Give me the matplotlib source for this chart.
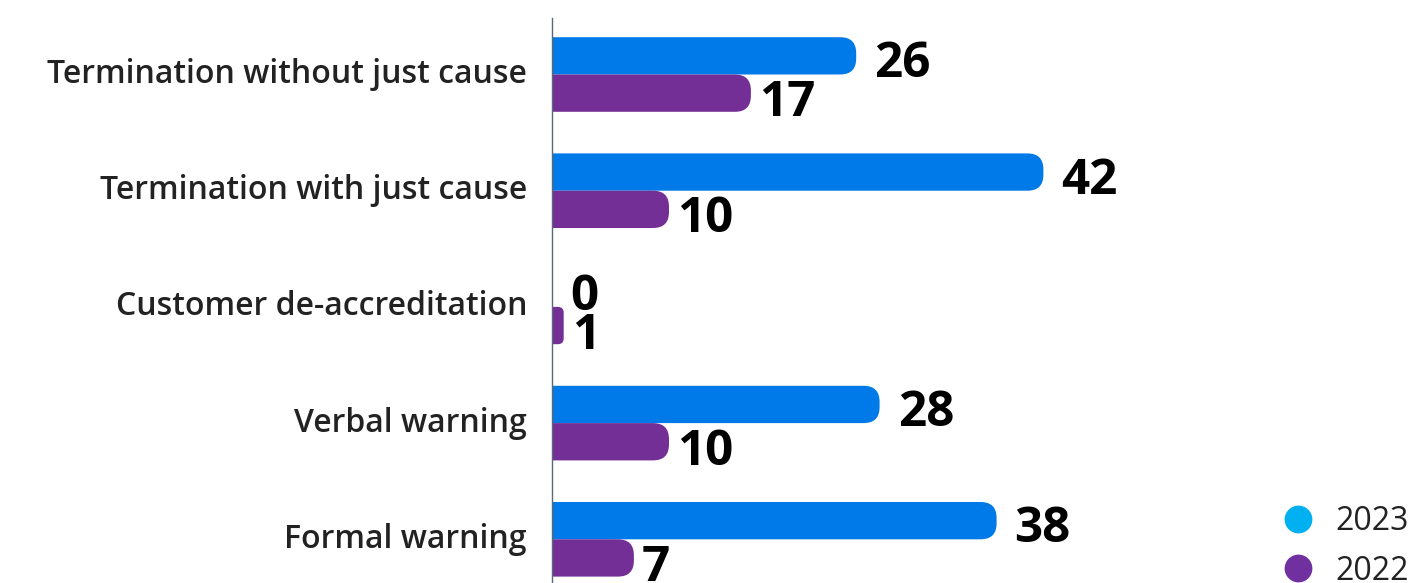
import matplotlib
matplotlib.use("Agg")
import matplotlib.pyplot as plt
from matplotlib.patches import FancyBboxPatch
from matplotlib.lines import Line2D
import matplotlib.transforms as mtransforms

categories = [
    "Termination without just cause",
    "Termination with just cause",
    "Customer de-accreditation",
    "Verbal warning",
    "Formal warning",
]
values_2023 = [26, 42, 0, 28, 38]
values_2022 = [17, 10, 1, 10, 7]
series_labels = ["2023", "2022"]

BAR_2023 = "#007AE8"
BAR_2022 = "#732F96"
LEG_2023 = "#00B0F0"
LEG_2022 = "#7030A0"

W, H, DPI = 1410, 583, 100
fig = plt.figure(figsize=(W / DPI, H / DPI), dpi=DPI)

# axes box in pixels
left_px, top_px, bottom_px, right_px = 552, 18, 583, 1410
ax = fig.add_axes([left_px / W, 1 - bottom_px / H, (right_px - left_px) / W, (bottom_px - top_px) / H])

px_per_x = 11.7           # pixels per unit on the value axis
xmax = (right_px - left_px) / px_per_x
group_px = 116.2          # pixels between categories
first_center = 74.5 - top_px
ymin = -first_center / group_px
ymax = ymin + (bottom_px - top_px) / group_px
ax.set_xlim(0, xmax)
ax.set_ylim(ymax, ymin)

bar_h = 37.3 / group_px
radius_px = 16
aspect = px_per_x / group_px

def rounded_bar(y_center, value, color):
    if value <= 0:
        return
    r = min(radius_px / px_per_x, value * 0.5)
    x0 = -4.0
    patch = FancyBboxPatch(
        (x0, y_center - bar_h / 2), value - x0, bar_h,
        boxstyle=f"round,pad=0,rounding_size={r}",
        mutation_aspect=aspect,
        facecolor=color, edgecolor="none", linewidth=0,
    )
    ax.add_patch(patch)

label_font = dict(family="Open Sans", weight="bold", fontsize=35.5, color="black")
cap_half = 17.5  # half the digit height in pixels

for i, (v23, v22) in enumerate(zip(values_2023, values_2022)):
    yc23 = i - bar_h / 2
    yc22 = i + bar_h / 2
    rounded_bar(yc23, v23, BAR_2023)
    rounded_bar(yc22, v22, BAR_2022)
    t23 = mtransforms.offset_copy(ax.transData, fig=fig, x=18, y=-(cap_half + 4), units="dots")
    t22 = mtransforms.offset_copy(ax.transData, fig=fig, x=8, y=-(cap_half + 5.5), units="dots")
    ax.text(v23, yc23, str(v23), transform=t23, ha="left", va="baseline", clip_on=False, **label_font)
    ax.text(v22, yc22, str(v22), transform=t22, ha="left", va="baseline", clip_on=False, **label_font)

ax.set_yticks(range(len(categories)))
ax.set_yticklabels(categories, fontsize=23, fontfamily="Open Sans", fontweight="semibold", color="#222222")
ax.tick_params(axis="y", length=0, pad=18)
lift = mtransforms.ScaledTranslation(0, 4 / DPI, fig.dpi_scale_trans)
for lbl in ax.get_yticklabels():
    lbl.set_transform(lbl.get_transform() + lift)
ax.set_xticks([])
for s in ["top", "right", "bottom"]:
    ax.spines[s].set_visible(False)
ax.spines["left"].set_color("#5A6878")
ax.spines["left"].set_linewidth(1.0)

handles = [
    Line2D([], [], marker="o", linestyle="", markersize=20, markerfacecolor=LEG_2023, markeredgecolor="none"),
    Line2D([], [], marker="o", linestyle="", markersize=20, markerfacecolor=LEG_2022, markeredgecolor="none"),
]
fig.legend(handles, series_labels, loc="upper left", bbox_to_anchor=(1282 / W, 1 - 505 / H),
           frameon=False, prop=dict(family="Open Sans", size=23), labelcolor="#222222",
           handlelength=1.0, handletextpad=0.66, labelspacing=0.52, borderpad=0.0, borderaxespad=0.0)

fig.savefig("out.png", dpi=DPI)
